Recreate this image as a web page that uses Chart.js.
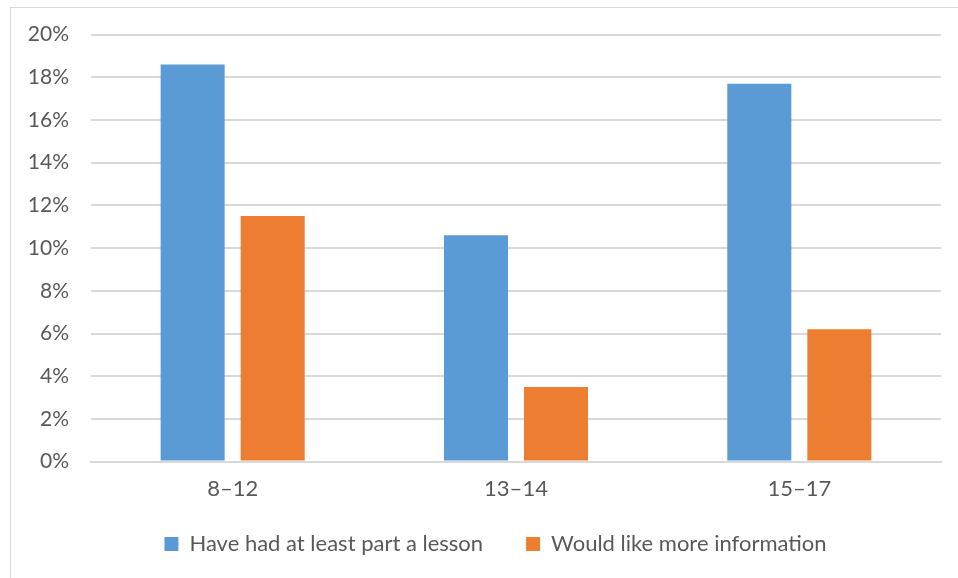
<!DOCTYPE html>
<html>
<head>
<meta charset="utf-8">
<script src="https://cdn.jsdelivr.net/npm/chart.js@4/dist/chart.umd.min.js"></script>
<style>
  html, body { margin: 0; padding: 0; background: #fff; overflow: hidden; }
  #wrap { position: relative; width: 958px; height: 578px; }
  #frame { position: absolute; left: 10px; top: 7px; width: 1000px; height: 700px; border: 1px solid #d9d9d9; box-sizing: border-box; }
  canvas { position: absolute; left: 0; top: 0; }
</style>
</head>
<body>
<div id="wrap">
  <div id="frame"></div>
  <canvas id="c" width="958" height="578"></canvas>
</div>
<script>
const ageGroups = ['8–12', '13–14', '15–17'];
const hadLesson = [18.6, 10.6, 17.7];
const wantInfo = [11.5, 3.5, 6.2];
const seriesNames = ['Have had at least part a lesson', 'Would like more information'];

const textColor = '#595959';
const fontFamily = 'Lato, "Open Sans", sans-serif';

// The legend keeps a wide gap between its two entries, but sits closer
// under the axis labels and a little right of centre.
const legendPlacement = {
  id: 'legendPlacement',
  beforeLayout(chart) {
    const lg = chart.legend;
    if (lg && !lg._trimmed) {
      const baseFit = Object.getPrototypeOf(lg).fit;
      lg.fit = function () { baseFit.call(this); this.height -= 13; };
      lg._trimmed = true;
    }
  },
  afterLayout(chart) {
    const lg = chart.legend;
    if (!lg) return;
    lg.top -= 26;
    lg.bottom = chart.height;
    lg.left += 15; lg.right += 15;
  }
};

new Chart(document.getElementById('c'), {
  type: 'bar',
  data: {
    labels: ageGroups,
    datasets: [
      { label: seriesNames[0], data: hadLesson, backgroundColor: '#5b9bd5' },
      { label: seriesNames[1], data: wantInfo, backgroundColor: '#ed7d31' }
    ]
  },
  options: {
    responsive: false,
    animation: false,
    devicePixelRatio: 1,
    layout: { padding: { left: 20, right: 17, top: 34, bottom: 0 } },
    datasets: { bar: { categoryPercentage: 0.565, barPercentage: 0.8 } },
    scales: {
      x: {
        grid: { display: false, drawTicks: false },
        border: { color: '#d9d9d9', width: 2 },
        ticks: { color: textColor, font: { family: fontFamily, size: 22 }, padding: 14 }
      },
      y: {
        min: 0, max: 20,
        afterFit: (s) => { s.width = 71; },
        grid: { color: '#d9d9d9', lineWidth: 2, drawTicks: false },
        border: { display: false },
        ticks: {
          stepSize: 2,
          color: textColor,
          font: { family: fontFamily, size: 21 },
          padding: 22,
          callback: (v) => v + '%'
        }
      }
    },
    plugins: {
      legend: {
        position: 'bottom',
        labels: {
          color: textColor,
          font: { family: fontFamily, size: 22 },
          boxWidth: 14, boxHeight: 14,
          padding: 43
        }
      },
      tooltip: { enabled: false }
    }
  },
  plugins: [legendPlacement]
});
</script>
</body>
</html>
